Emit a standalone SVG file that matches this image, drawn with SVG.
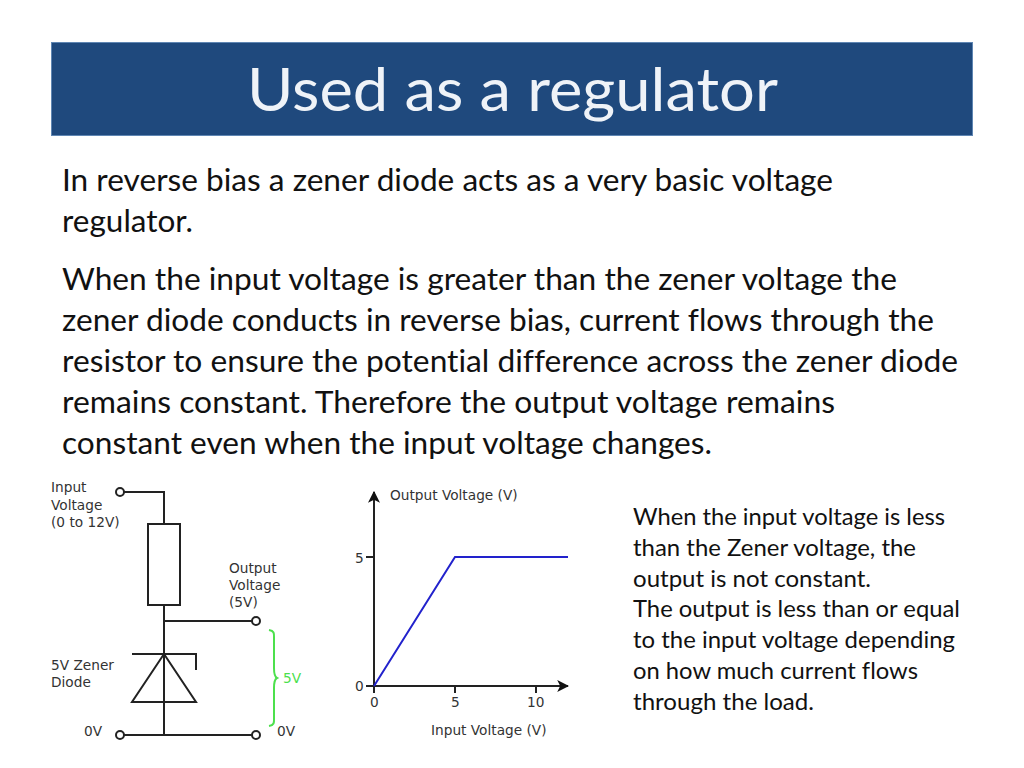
<svg xmlns="http://www.w3.org/2000/svg" width="1024" height="768" viewBox="0 0 1024 768">
<style>
.t{font-family:"Lato","Open Sans",sans-serif;fill:#111;font-variant-ligatures:none}
.b{font-size:31px}
.s{font-size:23.5px}
.d{font-family:"DejaVu Sans",sans-serif;font-size:13.7px;fill:#333}
.a{font-size:13.7px}
.w{fill:none;stroke:#222;stroke-width:2}
.o{fill:#fff;stroke:#222;stroke-width:2}
</style>
<defs>
<marker id="ah" viewBox="0 0 10 10" refX="9" refY="5" markerWidth="12" markerHeight="12" markerUnits="userSpaceOnUse" orient="auto"><path d="M0 0L10 5L0 10L2.5 5Z" fill="#111"/></marker>
</defs>
<rect id="header" x="51.5" y="42.5" width="921" height="93" fill="#1f497d" stroke="#5f86b3" stroke-width="1"/>
<text class="t" x="247" y="111" font-size="60" style="fill:#eff3f8" textLength="531" lengthAdjust="spacingAndGlyphs">Used as a regulator</text>
<g id="body">
<text class="t b" x="62" y="191" textLength="771" lengthAdjust="spacingAndGlyphs">In reverse bias a zener diode acts as a very basic voltage</text>
<text class="t b" x="62" y="232" textLength="131" lengthAdjust="spacingAndGlyphs">regulator.</text>
<text class="t b" x="62" y="290" textLength="835" lengthAdjust="spacingAndGlyphs">When the input voltage is greater than the zener voltage the</text>
<text class="t b" x="62" y="331" textLength="872" lengthAdjust="spacingAndGlyphs">zener diode conducts in reverse bias, current flows through the</text>
<text class="t b" x="62" y="372" textLength="896" lengthAdjust="spacingAndGlyphs">resistor to ensure the potential difference across the zener diode</text>
<text class="t b" x="62" y="413" textLength="773" lengthAdjust="spacingAndGlyphs">remains constant. Therefore the output voltage remains</text>
<text class="t b" x="62" y="454" textLength="650" lengthAdjust="spacingAndGlyphs">constant even when the input voltage changes.</text>
</g>
<g id="note">
<text class="t s" x="633" y="525" textLength="312" lengthAdjust="spacingAndGlyphs">When the input voltage is less</text>
<text class="t s" x="633" y="556" textLength="283" lengthAdjust="spacingAndGlyphs">than the Zener voltage, the</text>
<text class="t s" x="633" y="587" textLength="238" lengthAdjust="spacingAndGlyphs">output is not constant.</text>
<text class="t s" x="633" y="617" textLength="327" lengthAdjust="spacingAndGlyphs">The output is less than or equal</text>
<text class="t s" x="633" y="648" textLength="322" lengthAdjust="spacingAndGlyphs">to the input voltage depending</text>
<text class="t s" x="633" y="679" textLength="285" lengthAdjust="spacingAndGlyphs">on how much current flows</text>
<text class="t s" x="633" y="710" textLength="181" lengthAdjust="spacingAndGlyphs">through the load.</text>
</g>
<g id="connectors">
<path class="w" d="M124 492H164V524M164 605V735M164 621H252M124 735H252"/>
<path class="w" d="M132 654H196V670"/>
</g>
<g id="input-terminal"><circle class="o" cx="120" cy="492" r="4"/>
<text class="d" x="51" y="492">Input</text><text class="d" x="51" y="510">Voltage</text><text class="d" x="51" y="527">(0 to 12V)</text></g>
<g id="resistor"><rect class="w" x="148" y="524" width="32" height="81" style="fill:#fff"/></g>
<g id="output-terminal"><circle class="o" cx="256" cy="621" r="4"/>
<text class="d" x="229" y="573">Output</text><text class="d" x="229" y="590">Voltage</text><text class="d" x="229" y="607">(5V)</text></g>
<g id="zener"><path class="w" d="M164 654L196 702H132Z"/>
<text class="d" x="51" y="670">5V Zener</text><text class="d" x="51" y="687">Diode</text></g>
<g id="ground-left"><circle class="o" cx="120" cy="735" r="4"/><text class="d" x="84" y="736">0V</text></g>
<g id="ground-right"><circle class="o" cx="256" cy="735" r="4"/><text class="d" x="277" y="736">0V</text></g>
<g id="brace"><path d="M269 630C275 631 274 634 274 640V668C274 674 275 677 277 678C275 679 274 682 274 688V716C274 722 275 725 269 726" fill="none" stroke="#4ce04c" stroke-width="2"/><text class="d" x="283" y="683" style="fill:#4ce04c">5V</text></g>
<g id="chart">
<path class="w" d="M374 686V492" marker-end="url(#ah)"/>
<path class="w" d="M374 686H568" marker-end="url(#ah)"/>
<path class="w" d="M366 557H374M455 686V693M536 686V693M374 686V693M366 686H374"/>
<path d="M374 686L455 557H568" fill="none" stroke="#2222cc" stroke-width="2"/>
<text class="d a" x="390" y="500">Output Voltage (V)</text>
<text class="d a" x="431" y="735">Input Voltage (V)</text>
<text class="d" x="355" y="563">5</text><text class="d" x="355" y="691">0</text>
<text class="d" x="370" y="707">0</text><text class="d" x="451" y="707">5</text><text class="d" x="527" y="707">10</text>
</g>
</svg>
